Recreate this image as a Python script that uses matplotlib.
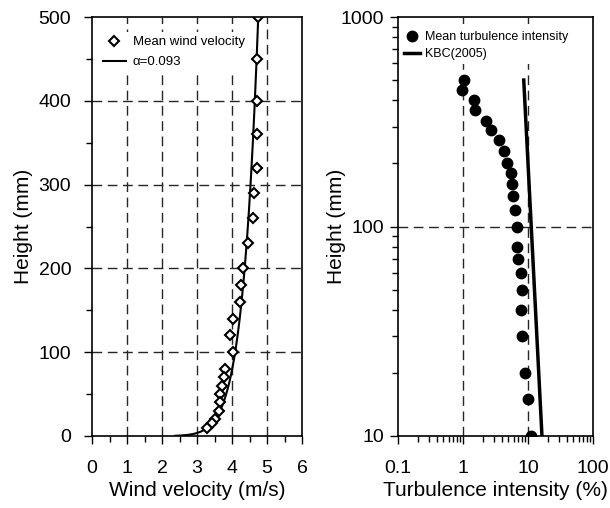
import numpy as np
import matplotlib
matplotlib.use("Agg")
import matplotlib.pyplot as plt
from matplotlib.ticker import MultipleLocator, FixedLocator, FixedFormatter, LogLocator, NullFormatter

plt.rcParams['font.family'] = ['Liberation Sans', 'DejaVu Sans']

# ---- data: left panel (mean wind velocity) ----
wind_height = [500, 450, 400, 360, 320, 290, 260, 230, 200, 180, 160, 140, 120, 100,
               80, 70, 60, 50, 40, 30, 20, 15, 10]
wind_vel = [4.75, 4.72, 4.72, 4.70, 4.70, 4.63, 4.59, 4.47, 4.32, 4.27, 4.22, 4.03, 3.94, 4.02,
            3.79, 3.77, 3.71, 3.66, 3.67, 3.64, 3.51, 3.43, 3.28]
ALPHA = 0.093
V_REF = 4.75
Z_REF = 500.0
Z_MIN = 0.3

# ---- data: right panel (turbulence intensity) ----
turb_height = [500, 450, 400, 360, 320, 290, 260, 230, 200, 180, 160, 140, 120, 100,
               80, 70, 60, 50, 40, 30, 20, 15, 10]
turb_int = [1.04, 0.97, 1.46, 1.55, 2.24, 2.67, 3.54, 4.23, 4.75, 5.4, 5.6, 5.9, 6.4, 6.87,
            6.87, 7.0, 7.8, 8.0, 7.9, 8.2, 9.1, 10.1, 11.3]
kbc_height = [10, 500]
kbc_int = [16.4, 8.6]

left_xticks = [0, 1, 2, 3, 4, 5, 6]
left_yticks = [0, 100, 200, 300, 400, 500]
right_xticks = [0.1, 1, 10, 100]
right_xlabels = ['0.1', '1', '10', '100']
right_yticks = [10, 100, 1000]
right_ylabels = ['10', '100', '1000']

fig = plt.figure(figsize=(6.1, 5.08), dpi=100)
W, H = 610, 508
def rect(x0, x1, ytop, ybot):
    return [x0 / W, (H - ybot) / H, (x1 - x0) / W, (ybot - ytop) / H]

ax1 = fig.add_axes(rect(92, 302, 17, 436))
ax2 = fig.add_axes(rect(398, 593, 17, 436))

grid_kw = dict(color='0.15', linewidth=1.0, linestyle=(0, (7, 4)), zorder=1)

# ---- left ----
for x in [1, 2, 3, 4, 5]:
    ax1.axvline(x, **grid_kw)
for y in [100, 200, 300, 400]:
    ax1.axhline(y, **grid_kw)
z = np.geomspace(Z_MIN, Z_REF, 400)
ax1.plot(V_REF * (z / Z_REF) ** ALPHA, z, color='black', lw=1.5, zorder=3,
         label='\u03b1=0.093')
ax1.plot(wind_vel, wind_height, linestyle='none', marker='D', ms=5, mfc='white',
         mec='black', mew=1.5, zorder=4, label='Mean wind velocity')
ax1.set_xlim(0, 6)
ax1.set_ylim(0, 500)
ax1.set_xticks(left_xticks)
ax1.set_yticks(left_yticks)
ax1.xaxis.set_minor_locator(MultipleLocator(0.5))
ax1.yaxis.set_minor_locator(MultipleLocator(50))
ax1.set_xlabel('Wind velocity (m/s)', fontsize=15, labelpad=3)
ax1.set_ylabel('Height (mm)', fontsize=15, labelpad=4)
h, l = ax1.get_legend_handles_labels()
leg1 = ax1.legend(h[::-1], l[::-1], loc='upper left', fontsize=9.5, frameon=True,
                  facecolor='white', edgecolor='none', framealpha=1, fancybox=False,
                  handlelength=1.8, handletextpad=0.5, borderpad=0.3,
                  labelspacing=0.6, bbox_to_anchor=(0.0, 0.98))
leg1.get_frame().set_linewidth(0)

# ---- right ----
ax2.set_xscale('log')
ax2.set_yscale('log')
for x in [1, 10]:
    ax2.axvline(x, **grid_kw)
ax2.axhline(100, **grid_kw)
ax2.plot(turb_int, turb_height, linestyle='none', marker='o', ms=7.5, color='black',
         zorder=4, label='Mean turbulence intensity')
ax2.plot(kbc_int, kbc_height, color='black', lw=2.5, zorder=3, label='KBC(2005)')
ax2.set_xlim(0.1, 100)
ax2.set_ylim(10, 1000)
ax2.xaxis.set_major_locator(FixedLocator(right_xticks))
ax2.xaxis.set_major_formatter(FixedFormatter(right_xlabels))
ax2.yaxis.set_major_locator(FixedLocator(right_yticks))
ax2.yaxis.set_major_formatter(FixedFormatter(right_ylabels))
ax2.xaxis.set_minor_locator(LogLocator(base=10, subs=np.arange(2, 10)))
ax2.yaxis.set_minor_locator(LogLocator(base=10, subs=np.arange(2, 10)))
ax2.xaxis.set_minor_formatter(NullFormatter())
ax2.yaxis.set_minor_formatter(NullFormatter())
ax2.set_xlabel('Turbulence intensity (%)', fontsize=15, labelpad=3)
ax2.set_ylabel('Height (mm)', fontsize=15, labelpad=-4)
leg2 = ax2.legend(loc='upper left', fontsize=9, frameon=True,
                  facecolor='white', edgecolor='none', framealpha=1, fancybox=False,
                  handlelength=1.3, handletextpad=0.4, borderpad=0.3,
                  labelspacing=0.4, bbox_to_anchor=(-0.02, 0.99))
leg2.get_frame().set_linewidth(0)

for ax in (ax1, ax2):
    ax.tick_params(which='major', direction='out', length=6, width=1, labelsize=14)
    ax.tick_params(which='minor', direction='out', length=4, width=1)
    ax.tick_params(axis='x', which='major', pad=11)
    for s in ax.spines.values():
        s.set_linewidth(1.2)
        s.set_zorder(5)
ax1.tick_params(axis='y', which='major', pad=9)
ax2.tick_params(axis='y', which='major', pad=4)

fig.savefig('out.png', dpi=100)
